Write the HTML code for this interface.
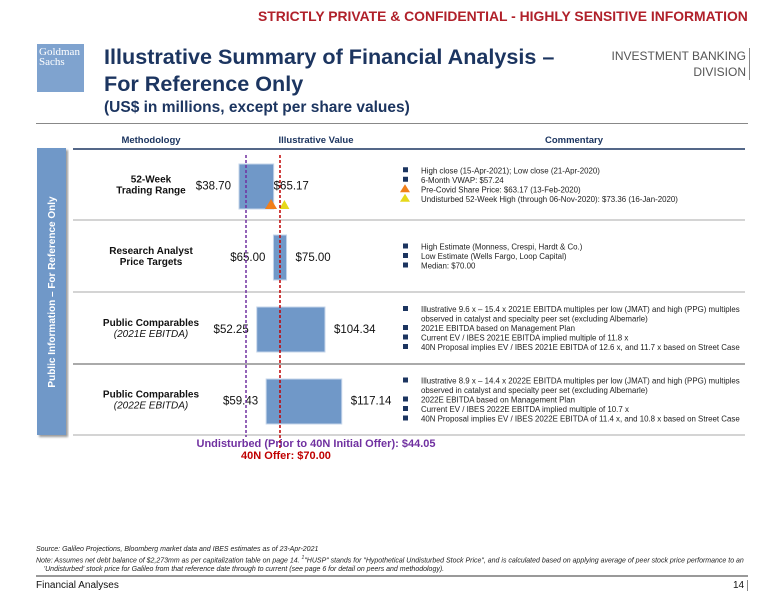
<!DOCTYPE html>
<html><head><meta charset="utf-8"><style>
body{margin:0;width:780px;height:603px;background:#fff;font-family:"Liberation Sans",sans-serif;overflow:hidden;position:relative}
.a{position:absolute;white-space:nowrap}
</style></head><body>
<div class="a" style="left:258px;top:8px;font-size:13.9px;font-weight:bold;color:#b0202a">STRICTLY PRIVATE &amp; CONFIDENTIAL - HIGHLY SENSITIVE INFORMATION</div>
<div class="a" style="left:37px;top:44px;width:47px;height:48px;background:#7fa3cf;color:#fff;font-family:'Liberation Serif',serif;font-size:11px;line-height:10px;padding:3px 0 0 2px;box-sizing:border-box">Goldman<br>Sachs</div>
<div class="a" style="left:104px;top:43px;font-size:21.6px;font-weight:bold;color:#1c3560;line-height:27px">Illustrative Summary of Financial Analysis –<br>For Reference Only</div>
<div class="a" style="left:104px;top:99px;font-size:15.5px;font-weight:bold;color:#1c3560">(US$ in millions, except per share values)</div>
<div class="a" style="right:30px;top:48px;font-size:12px;color:#555;text-align:right;line-height:16px;border-right:1px solid #888;padding-right:3px">INVESTMENT BANKING<br>DIVISION</div>
<div class="a" style="left:36px;top:123px;width:712px;height:1px;background:#888"></div>

<svg class="a" style="left:0;top:0" width="780" height="603" id="chart">
<defs><filter id="sh"><feDropShadow dx="2" dy="2" stdDeviation="1" flood-color="#999"/></filter></defs>
<rect x="37" y="148" width="29" height="287" fill="#7098c8" filter="url(#sh)"/>
<text transform="translate(55,292) rotate(-90)" text-anchor="middle" fill="#fff" font-size="10" font-weight="bold" font-family="Liberation Sans">Public Information – For Reference Only</text>
<text x="151" y="143" text-anchor="middle" font-size="9.5" font-weight="bold" fill="#1c3560">Methodology</text>
<text x="316" y="143" text-anchor="middle" font-size="9.5" font-weight="bold" fill="#1c3560">Illustrative Value</text>
<text x="574" y="143" text-anchor="middle" font-size="9.5" font-weight="bold" fill="#1c3560">Commentary</text>
<line x1="73" y1="149" x2="745" y2="149" stroke="#1c3560" stroke-width="1.5"/>
<g id="g"></g>
</svg>

<div class="a" style="left:36px;top:545px;font-size:7px;font-style:italic;color:#222;line-height:9px">Source: Galileo Projections, Bloomberg market data and IBES estimates as of 23-Apr-2021<br>Note: Assumes net debt balance of $2,273mm as per capitalization table on page 14. <sup style="font-size:5px">1</sup>"HUSP" stands for "Hypothetical Undisturbed Stock Price", and is calculated based on applying average of peer stock price performance to an<br>&nbsp;&nbsp;&nbsp;&nbsp;'Undisturbed' stock price for Galileo from that reference date through to current (see page 6 for detail on peers and methodology).</div>
<div class="a" style="left:36px;top:575px;width:712px;height:2px;background:#999"></div>
<div class="a" style="left:36px;top:580px;font-size:10px;color:#111">Financial Analyses</div>
<div class="a" style="left:733px;top:580px;font-size:10px;color:#111;border-right:1px solid #888;padding-right:3px">14</div>

<script>
const rowTitles=["52-Week","Research Analyst","Public Comparables","Public Comparables"];
const rowSubs=["Trading Range","Price Targets","(2021E EBITDA)","(2022E EBITDA)"];
const lowValues=[38.70,65.00,52.25,59.43];
const highValues=[65.17,75.00,104.34,117.14];
const undisturbed=44.05;
const offer=70.00;
const preCovid=63.17;
const high52=73.36;
const comments=[
 [["sq","High close (15-Apr-2021); Low close (21-Apr-2020)"],["sq","6-Month VWAP: $57.24"],["or","Pre-Covid Share Price: $63.17 (13-Feb-2020)"],["ye","Undisturbed 52-Week High (through 06-Nov-2020): $73.36 (16-Jan-2020)"]],
 [["sq","High Estimate (Monness, Crespi, Hardt & Co.)"],["sq","Low Estimate (Wells Fargo, Loop Capital)"],["sq","Median: $70.00"]],
 [["sq","Illustrative 9.6 x – 15.4 x 2021E EBITDA multiples per low (JMAT) and high (PPG) multiples"],["","observed in catalyst and specialty peer set (excluding Albemarle)"],["sq","2021E EBITDA based on Management Plan"],["sq","Current EV / IBES 2021E EBITDA implied multiple of 11.8 x"],["sq","40N Proposal implies EV / IBES 2021E EBITDA of 12.6 x, and 11.7 x based on Street Case"]],
 [["sq","Illustrative 8.9 x – 14.4 x 2022E EBITDA multiples per low (JMAT) and high (PPG) multiples"],["","observed in catalyst and specialty peer set (excluding Albemarle)"],["sq","2022E EBITDA based on Management Plan"],["sq","Current EV / IBES 2022E EBITDA implied multiple of 10.7 x"],["sq","40N Proposal implies EV / IBES 2022E EBITDA of 11.4 x, and 10.8 x based on Street Case"]]
];
const NS="http://www.w3.org/2000/svg";
const g=document.getElementById('g');
const x=v=>246+(v-44.05)*1.31;
const rowTop=[149,220,292,364],rowH=[71,72,72,71];
function mk(t,a,txt){const e=document.createElementNS(NS,t);for(const k in a)e.setAttribute(k,a[k]);if(txt!==undefined)e.textContent=txt;g.appendChild(e);return e;}
[220,292,364,435].forEach((y,i)=>{const l=mk('line',{x1:73,y1:y,x2:745,y2:y,stroke:'#aaa','stroke-width':i==2?2:1});

});
rowTitles.forEach((t,i)=>{
 const top=rowTop[i],cy=top+rowH[i]/2;
 const it=i>=2;
 const a=mk('text',{x:151,y:cy-2,'text-anchor':'middle','font-size':10,'font-weight':'bold',fill:'#111'},t);
 
 
 const b=mk('text',{x:151,y:cy+9,'text-anchor':'middle','font-size':10,'font-weight':it?'normal':'bold','font-style':it?'italic':'normal',fill:'#111'},rowSubs[i]);
 
 
 const x0=x(lowValues[i]),x1=x(highValues[i]);
 const r=mk('rect',{x:x0,y:top+15,width:x1-x0,height:45,fill:'#7098c8',stroke:'#c5d5ea','stroke-width':1});
 
 
 const lo=mk('text',{x:x0-8,y:cy+5,'text-anchor':'end','font-size':11.5,fill:'#111'},'$'+lowValues[i].toFixed(2));
 
 
 const hi=mk('text',{x:i==0?x1:x1+9,y:cy+5,'font-size':11.5,fill:'#111'},'$'+highValues[i].toFixed(2));
 
 
 comments[i].forEach((c,j)=>{
  const n=comments[i].length;const y0=cy-(n-1)*9.5/2+j*9.5;
  if(c[0]=='sq'){const s=mk('rect',{x:403,y:y0-3,width:5,height:5,fill:'#1c3560'});
   
   }
  else if(c[0]){const s=mk('polygon',{points:`400,${y0+3} 410,${y0+3} 405,${y0-5}`,fill:c[0]=='or'?'#f07f1a':'#e6d81a'});
   
   }
  const tx=mk('text',{x:421,y:y0+3,'font-size':7.9,fill:'#222'},c[1]);
  
  
 });
});
const t1=mk('polygon',{points:`${x(preCovid)-6},209 ${x(preCovid)+6},209 ${x(preCovid)},199`,fill:'#f07f1a'});


const t2=mk('polygon',{points:`${x(high52)-5},209 ${x(high52)+5},209 ${x(high52)},200`,fill:'#e6d81a'});


const pl=mk('line',{x1:x(undisturbed),y1:155,x2:x(undisturbed),y2:437,stroke:'#7030a0','stroke-width':1.5,'stroke-dasharray':'3,2'});


const rl=mk('line',{x1:x(offer),y1:155,x2:x(offer),y2:448,stroke:'#c00000','stroke-width':1.5,'stroke-dasharray':'3,2'});


const ul=mk('text',{x:316,y:447,'text-anchor':'middle','font-size':11,'font-weight':'bold',fill:'#7030a0'},'Undisturbed (Prior to 40N Initial Offer): $'+undisturbed.toFixed(2));


const ol=mk('text',{x:286,y:459,'text-anchor':'middle','font-size':11,'font-weight':'bold',fill:'#c00000'},'40N Offer: $'+offer.toFixed(2));


</script>
</body></html>
